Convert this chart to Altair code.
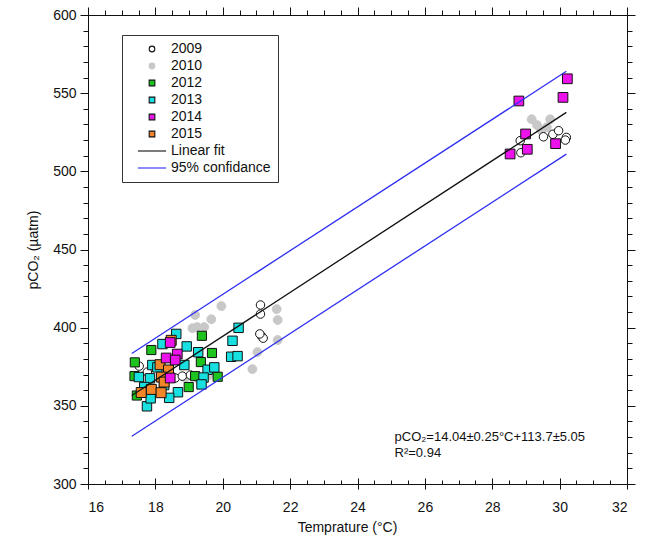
import altair as alt
import pandas as pd

# ---- observations: sea-surface temperature (°C) vs pCO2 (µatm) per survey year ----
t_2009 = [28.83, 28.85, 29.52, 29.80, 29.97, 30.20, 30.17, 21.12, 21.12, 21.15, 21.20, 21.10,
          17.52, 17.76, 18.59, 18.80, 19.04, 18.26]
p_2009 = [519.6, 511.9, 522.1, 523.7, 526.0, 521.7, 520.0, 414.5, 408.7, 394.6, 393.3, 396.0,
          375.4, 371.6, 367.8, 369.0, 369.7, 366.5]

t_2010 = [29.17, 29.72, 29.33, 29.62, 29.45, 19.18, 19.96, 19.66, 19.24, 19.45, 19.10, 21.60,
          21.63, 21.63, 21.03, 20.88, 18.89, 19.30, 19.60]
p_2010 = [533.3, 533.3, 529.6, 528.2, 526.4, 408.1, 413.8, 405.4, 400.4, 400.4, 399.7, 411.9,
          404.9, 392.1, 384.4, 373.5, 367.8, 366.5, 369.7]

t_2012 = [19.38, 17.88, 19.68, 17.39, 19.35, 19.18, 17.38, 19.85, 18.99, 17.45]
p_2012 = [394.8, 385.7, 383.8, 377.8, 378.0, 369.0, 369.0, 368.6, 362.0, 356.6]

t_2013 = [20.47, 20.29, 20.25, 20.44, 18.62, 18.21, 18.93, 19.27, 17.91, 19.55, 19.75, 17.51,
          17.84, 19.43, 19.37, 18.67, 18.41, 17.75, 17.86, 18.06, 18.26, 18.86, 17.67]
p_2013 = [399.9, 391.6, 381.4, 381.8, 396.0, 389.5, 388.0, 384.3, 376.1, 373.1, 374.6, 368.4,
          367.6, 368.1, 363.7, 358.7, 355.1, 349.7, 354.8, 374.6, 363.3, 376.1, 362.0]

t_2014 = [30.23, 30.10, 28.79, 28.99, 29.04, 28.53, 29.88, 18.44, 18.65, 18.32, 18.59, 18.44]
p_2014 = [559.2, 547.3, 545.0, 523.9, 514.1, 511.1, 517.7, 390.5, 383.1, 380.6, 379.3, 367.8]

t_2015 = [18.47, 18.14, 18.39, 18.18, 17.88, 17.58, 18.17, 18.26]
p_2015 = [391.9, 376.3, 372.9, 368.4, 360.5, 358.5, 358.4, 365.2]

# regression and its 95% band over the observed temperature range
fit_slope = 14.04
fit_intercept = 113.7
line_t = [17.3, 30.2]
band_upper = [383.5, 564.0]
band_lower = [330.5, 511.0]

ann_text = ["pCO₂=14.04±0.25°C+113.7±5.05", "R²=0.94"]
ann_t = [25.1, 25.1]
ann_p = [330.0, 319.8]

series_order = ["2009", "2010", "2012", "2013", "2014", "2015", "Linear fit", "95% confidance"]
point_series = series_order[:6]

# ---- tables ----
rows = []
for name, ts, ps in [("2010", t_2010, p_2010), ("2009", t_2009, p_2009),
                     ("2012", t_2012, p_2012), ("2013", t_2013, p_2013),
                     ("2015", t_2015, p_2015), ("2014", t_2014, p_2014)]:
    for t, p in zip(ts, ps):
        rows.append({"t": t, "p": p, "series": name})
points = pd.DataFrame(rows)

line_rows = []
for t in line_t:
    line_rows.append({"t": t, "p": fit_slope * t + fit_intercept, "series": "Linear fit", "part": "fit"})
for t, pu, pl in zip(line_t, band_upper, band_lower):
    line_rows.append({"t": t, "p": pu, "series": "95% confidance", "part": "upper"})
    line_rows.append({"t": t, "p": pl, "series": "95% confidance", "part": "lower"})
lines = pd.DataFrame(line_rows)

notes = pd.DataFrame({"t": ann_t, "p": ann_p, "text": ann_text})

# ---- styling ----
FONT = "Liberation Sans"
W, H = 539, 469

x_scale = alt.Scale(domain=[16, 32], nice=False, zero=False)
y_scale = alt.Scale(domain=[300, 600], nice=False, zero=False)

fill_scale = alt.Scale(domain=series_order,
                       range=["#ffffff", "#c8c8c8", "#1ec41e", "#18e0e0", "#ec12ec", "#f0852a",
                              "transparent", "transparent"])
stroke_scale = alt.Scale(domain=series_order,
                         range=["#111111", "#c8c8c8", "#111111", "#111111", "#111111", "#111111",
                                "#111111", "#2f2ff2"])
shape_scale = alt.Scale(domain=series_order,
                        range=["circle", "circle", "square", "square", "square", "square",
                               "M-5,0H5", "M-5,0H5"])
# marker areas only for the scatter series
size_scale = alt.Scale(domain=point_series, range=[72, 100, 95, 95, 95, 95])

# trailing em space keeps a little room between the longest label and the frame
legend = alt.Legend(orient="none", legendX=34, legendY=20, padding=7,
                    strokeColor="#333333", fillColor="#ffffff",
                    labelFont=FONT, labelFontSize=14, labelColor="#111111",
                    labelExpr="datum.label + '\u2003'",
                    symbolSize=32, symbolStrokeWidth=1.1, rowPadding=3,
                    symbolOffset=16, labelOffset=12)

major_x = list(range(16, 33, 2))
minor_x = [16 + 0.5 * i for i in range(33)]
major_y = list(range(300, 601, 50))
minor_y = list(range(300, 601, 10))

common = dict(grid=False, domainColor="#111111", tickColor="#111111", tickWidth=1,
              domainWidth=1, labelFont=FONT, titleFont=FONT)


def ax(orient, values, size, labels=False, domain=False, title=None, **kw):
    opts = dict(common)
    opts.update(kw)
    return alt.Axis(orient=orient, values=values, tickSize=size, labels=labels,
                    domain=domain, title=title, **opts)


x_bottom = ax("bottom", major_x, 5, labels=True, domain=True, title="Temprature (°C)",
              labelFontSize=14, labelColor="#111111", labelPadding=11,
              titleFontSize=14, titleFontWeight="normal", titleColor="#111111",
              titlePadding=6, titleX=259)
y_left = ax("left", major_y, 8, labels=True, domain=True, title="pCO₂ (µatm)",
            labelFontSize=14, labelColor="#111111", labelPadding=4,
            titleFontSize=14, titleFontWeight="normal", titleColor="#111111",
            titlePadding=12)
x_top = ax("top", major_x, 8, domain=True)
y_right = ax("right", major_y, 8, domain=True)
x_top_minor = ax("top", minor_x, 5)
y_right_minor = ax("right", minor_y, 5)
x_bottom_in = ax("top", major_x, 6, offset=-H)
y_left_minor = ax("left", minor_y, 5)
x_bottom_in_minor = ax("top", minor_x, 4, offset=-H)

pt_layer = alt.Chart(points).mark_point(filled=True, opacity=1, strokeWidth=1).encode(
    x=alt.X("t:Q", scale=x_scale, axis=x_bottom),
    y=alt.Y("p:Q", scale=y_scale, axis=y_left),
    fill=alt.Fill("series:N", scale=fill_scale, legend=legend, title=None),
    stroke=alt.Stroke("series:N", scale=stroke_scale, legend=legend, title=None),
    shape=alt.Shape("series:N", scale=shape_scale, legend=legend, title=None),
    size=alt.Size("series:N", scale=size_scale, legend=None),
)

band_layer = alt.Chart(lines).mark_line(strokeWidth=1.3).encode(
    x=alt.X("t:Q", scale=x_scale, axis=x_top),
    y=alt.Y("p:Q", scale=y_scale, axis=y_right),
    stroke=alt.Stroke("series:N", scale=stroke_scale, legend=legend, title=None),
    detail="part:N",
)

note_layer = alt.Chart(notes).mark_text(align="left", baseline="middle", font=FONT,
                                        fontSize=13, color="#111111").encode(
    x=alt.X("t:Q", scale=x_scale, axis=x_top_minor),
    y=alt.Y("p:Q", scale=y_scale, axis=y_right_minor),
    text="text:N",
)

tick_layer_a = alt.Chart(lines).mark_point(opacity=0).encode(
    x=alt.X("t:Q", scale=x_scale, axis=x_bottom_in),
    y=alt.Y("p:Q", scale=y_scale, axis=y_left_minor),
)

tick_layer_b = alt.Chart(lines).mark_point(opacity=0).encode(
    x=alt.X("t:Q", scale=x_scale, axis=x_bottom_in_minor),
    y=alt.Y("p:Q", scale=y_scale, axis=None),
)

chart = alt.layer(pt_layer, band_layer, note_layer, tick_layer_a, tick_layer_b).resolve_axis(
    x="independent", y="independent"
).properties(
    width=W, height=H,
    padding={"left": 88, "top": 15, "right": 18, "bottom": 55},
    autosize=alt.AutoSizeParams(type="none"),
    background="#ffffff",
).configure_view(stroke="transparent")

chart.save("out.html", embed_options={"renderer": "svg", "actions": False})
